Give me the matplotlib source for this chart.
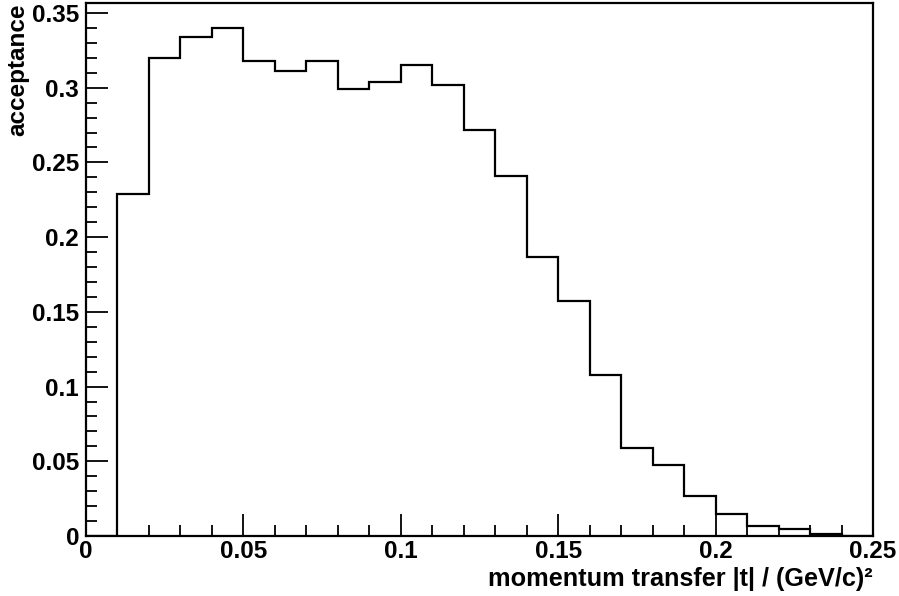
"""Acceptance vs momentum transfer |t|, ROOT-style step histogram."""

import matplotlib

matplotlib.use("Agg")
import matplotlib.pyplot as plt
import numpy as np
from matplotlib.ticker import MultipleLocator

# bin edges every 0.01 (GeV/c)^2 from 0 to 0.25
bin_edges = np.round(np.arange(0.0, 0.2501, 0.01), 3)
acceptance = [
    0.0, 0.229, 0.320, 0.334, 0.340, 0.318, 0.311, 0.318, 0.299, 0.304,
    0.315, 0.302, 0.272, 0.241, 0.187, 0.157, 0.108, 0.059, 0.0475, 0.027,
    0.0147, 0.0069, 0.0045, 0.0013, 0.0003,
]
x_ticks = [0, 0.05, 0.1, 0.15, 0.2, 0.25]
x_tick_labels = ["0", "0.05", "0.1", "0.15", "0.2", "0.25"]
y_ticks = [0, 0.05, 0.1, 0.15, 0.2, 0.25, 0.3, 0.35]
y_tick_labels = ["0", "0.05", "0.1", "0.15", "0.2", "0.25", "0.3", "0.35"]

plt.rcParams["font.family"] = ["Liberation Sans", "DejaVu Sans"]
plt.rcParams["font.weight"] = "bold"

fig = plt.figure(figsize=(8.99, 5.96), dpi=100)
ax = fig.add_axes([86 / 899, 1 - 536 / 596, 787 / 899, 533 / 596])

ax.stairs(acceptance, bin_edges, color="black", lw=1.6, baseline=0)

ax.set_xlim(0, 0.25)
ax.set_ylim(0, 0.3567)

ax.set_xticks(x_ticks)
ax.set_xticklabels(x_tick_labels)
ax.set_yticks(y_ticks)
ax.set_yticklabels(y_tick_labels)
ax.xaxis.set_minor_locator(MultipleLocator(0.01))
ax.yaxis.set_minor_locator(MultipleLocator(0.01))

ax.tick_params(which="both", direction="in", width=1.3, labelsize=17.5, colors="black")
ax.tick_params(which="major", length=16)
ax.tick_params(which="minor", length=8)
ax.tick_params(axis="x", pad=3)
ax.tick_params(axis="y", pad=5)
for sp in ax.spines.values():
    sp.set_linewidth(1.6)

# ROOT-style axis titles, aligned to the far end of each axis
fig.text(873 / 899, 1 - 586 / 596, "momentum transfer |t| / (GeV/c)\u00b2",
         ha="right", va="baseline", fontsize=18.2, fontweight="bold")
fig.text(18 / 899, 1 - 3 / 596, "acceptance", rotation=90,
         ha="center", va="top", fontsize=17.5, fontweight="bold")

fig.savefig("out.png", dpi=100)
